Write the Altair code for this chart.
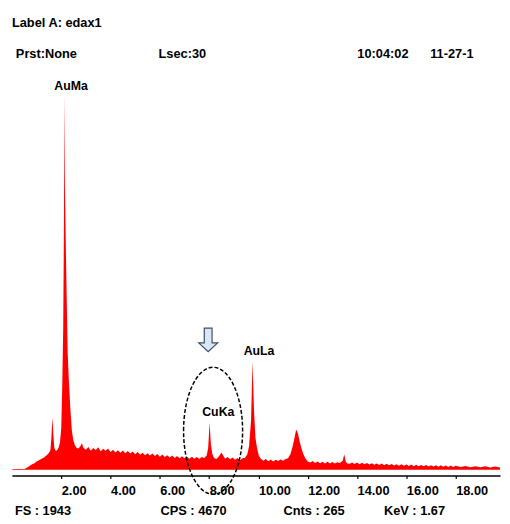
import altair as alt
import pandas as pd

# ---- spectrum (keV, counts) ----
kev = [0.02, 0.5, 0.55, 0.6, 0.7, 0.8, 0.9, 1.0, 1.1, 1.2, 1.3, 1.4, 1.5, 1.56, 1.6, 1.64, 1.68, 1.72,
       1.78, 1.84, 1.9, 1.95, 2.0, 2.04, 2.08, 2.11, 2.13, 2.15, 2.18, 2.22, 2.26, 2.31, 2.37, 2.43, 2.49,
       2.55, 2.62, 2.7, 2.78, 2.84, 2.9, 3.0, 3.1, 3.2, 3.3, 3.4, 3.5, 3.6, 3.7, 3.8, 3.9, 4.0, 4.1, 4.2,
       4.3, 4.4, 4.5, 4.6, 4.7, 4.8, 4.9, 5.0, 5.1, 5.2, 5.3, 5.4, 5.5, 5.6, 5.7, 5.8, 5.9, 6.0, 6.1, 6.2,
       6.3, 6.4, 6.5, 6.6, 6.7, 6.8, 6.9, 7.0, 7.1, 7.2, 7.3, 7.4, 7.5, 7.6, 7.7, 7.8, 7.9, 7.96, 8.02,
       8.07, 8.13, 8.2, 8.3, 8.4, 8.5, 8.58, 8.65, 8.75, 8.85, 8.95, 9.05, 9.15, 9.25, 9.35, 9.45, 9.55,
       9.62, 9.7, 9.76, 9.82, 9.88, 9.95, 10.02, 10.1, 10.2, 10.3, 10.4, 10.5, 10.6, 10.7, 10.8, 10.9,
       11.0, 11.1, 11.2, 11.3, 11.38, 11.46, 11.53, 11.6, 11.67, 11.74, 11.82, 11.9, 12.0, 12.1, 12.2,
       12.3, 12.4, 12.5, 12.6, 12.7, 12.8, 12.9, 13.0, 13.1, 13.2, 13.3, 13.42, 13.48, 13.54, 13.6, 13.7,
       13.8, 13.9, 14.0, 14.1, 14.2, 14.3, 14.4, 14.5, 14.6, 14.7, 14.8, 14.9, 15.0, 15.1, 15.2, 15.3,
       15.4, 15.5, 15.6, 15.7, 15.8, 15.9, 16.0, 16.1, 16.2, 16.3, 16.4, 16.5, 16.6, 16.7, 16.8, 16.9,
       17.0, 17.1, 17.2, 17.3, 17.4, 17.5, 17.6, 17.7, 17.8, 17.9, 18.0, 18.2, 18.4, 18.6, 18.8, 19.0,
       19.2, 19.4, 19.6, 19.8]
counts = [4, 4, 6, 10, 18, 26, 32, 42, 48, 55, 62, 72, 85, 100, 160, 265, 180, 110,
          95, 100, 115, 140, 210, 420, 720, 1250, 1903, 1450, 1180, 880, 600, 450, 310, 200, 150,
          125, 112, 108, 120, 135, 112, 102, 116, 96, 110, 100, 114, 94, 106, 96, 108, 90, 102, 88,
          99, 86, 97, 84, 95, 82, 92, 78, 90, 76, 86, 74, 84, 72, 82, 70, 80, 66, 77, 64,
          74, 62, 72, 60, 70, 58, 68, 58, 66, 56, 66, 55, 64, 54, 64, 60, 72, 110, 240,
          130, 80, 60, 54, 68, 88, 70, 56, 64, 53, 62, 50, 60, 48, 58, 60, 78,
          120, 250, 550, 300, 160, 105, 70, 55, 46, 54, 43, 52, 42, 50, 44, 52,
          46, 54, 58, 80, 115, 160, 205, 185, 145, 110, 80, 58, 42, 36, 44,
          34, 42, 33, 40, 32, 40, 32, 39, 31, 38, 34, 45, 78, 42, 32, 30,
          37, 29, 36, 28, 35, 27, 34, 26, 33, 25, 32, 24, 31, 23, 30, 22,
          29, 21, 28, 20, 27, 20, 26, 19, 26, 18, 25, 18, 24, 17, 24, 16,
          23, 16, 22, 15, 22, 15, 21, 14, 21, 14, 20, 13, 19, 12, 18, 12,
          17, 11, 16, 11]

tick_values = [2, 4, 6, 8, 10, 12, 14, 16, 18]

peak_names = ["AuMa", "AuLa", "CuKa"]
peak_label_kev = [1.72, 9.4, 7.72]
peak_label_cnt = [1950, 605, 295]

header_texts = ["Label A: edax1", "Prst:None", "Lsec:30", "10:04:02", "11-27-1"]
footer_texts = ["FS : 1943", "CPS : 4670", "Cnts : 265", "KeV : 1.67"]

FONT = "Liberation Sans, Arial, sans-serif"

spec = pd.DataFrame({"kev": kev, "counts": counts})

xscale = alt.Scale(domain=[0, 19.8], nice=False, zero=False)
yscale = alt.Scale(domain=[-30, 1943], nice=False, zero=False)

area = alt.Chart(spec).mark_area(color="#ff0000", opacity=1, interpolate="linear").encode(
    x=alt.X("kev:Q", scale=xscale,
            axis=alt.Axis(values=tick_values, format=".2f", title=None, grid=False,
                          domainColor="#000000", domainWidth=1.5, tickColor="#000000",
                          tickSize=3, tickWidth=1.2, labelAlign="left",
                          labelBaseline="top", labelPadding=6, labelFont=FONT,
                          labelFontSize=13, labelFontWeight="bold", labelColor="#000000")),
    y=alt.Y("counts:Q", scale=yscale, axis=None),
    y2=alt.datum(0),
)

labels = alt.Chart(pd.DataFrame({"kev": peak_label_kev, "counts": peak_label_cnt,
                                 "name": peak_names})).mark_text(
    align="left", baseline="middle", font=FONT, fontSize=12.5, fontWeight="bold",
    color="#000000"
).encode(x=alt.X("kev:Q", scale=xscale), y=alt.Y("counts:Q", scale=yscale), text="name:N")

# arrow and dashed ellipse annotations (data coordinates)
arrow_path = "M -0.33 -1 L 0.33 -1 L 0.33 0.25 L 0.8 0.25 L 0 1 L -0.8 0.25 L -0.33 0.25 Z"
ellipse_path = "M -0.465 0 A 0.465 1 0 1 1 0.465 0 A 0.465 1 0 1 1 -0.465 0 Z"

arrow = alt.Chart(pd.DataFrame({"kev": [7.96], "counts": [660]})).mark_point(
    shape=arrow_path, size=576, filled=True, fill="#d8e8f8", stroke="#3c4c68",
    strokeWidth=1.2, opacity=1
).encode(x=alt.X("kev:Q", scale=xscale), y=alt.Y("counts:Q", scale=yscale))

ellipse = alt.Chart(pd.DataFrame({"kev": [8.16], "counts": [198]})).mark_point(
    shape=ellipse_path, size=16641, filled=False, stroke="#000000", strokeWidth=1.5,
    strokeDash=[4, 2], opacity=1
).encode(x=alt.X("kev:Q", scale=xscale), y=alt.Y("counts:Q", scale=yscale))

# header / footer texts placed in pixels relative to the plot area
header_x = [0, 4, 149, 351, 425]
header_y = [-62, -30, -30, -30, -30]
footer_x = [3, 151, 276, 378]
footer_y = [434, 434, 434, 434]

text_layers = []
for t, px, py in zip(header_texts + footer_texts, header_x + footer_x, header_y + footer_y):
    text_layers.append(
        alt.Chart(pd.DataFrame({"t": [t]})).mark_text(
            align="left", baseline="alphabetic", font=FONT, fontSize=13, fontWeight="bold",
            color="#000000"
        ).encode(text="t:N", x=alt.value(px), y=alt.value(py))
    )

chart = alt.layer(area, ellipse, arrow, labels, *text_layers).properties(
    width=496, height=394, background="#ffffff",
    autosize=alt.AutoSizeParams(type="none"),
    padding={"left": 4, "top": 77, "right": 2, "bottom": 41},
).configure_view(stroke=None)

chart.save("out.html", embed_options={"renderer": "svg", "actions": False})
